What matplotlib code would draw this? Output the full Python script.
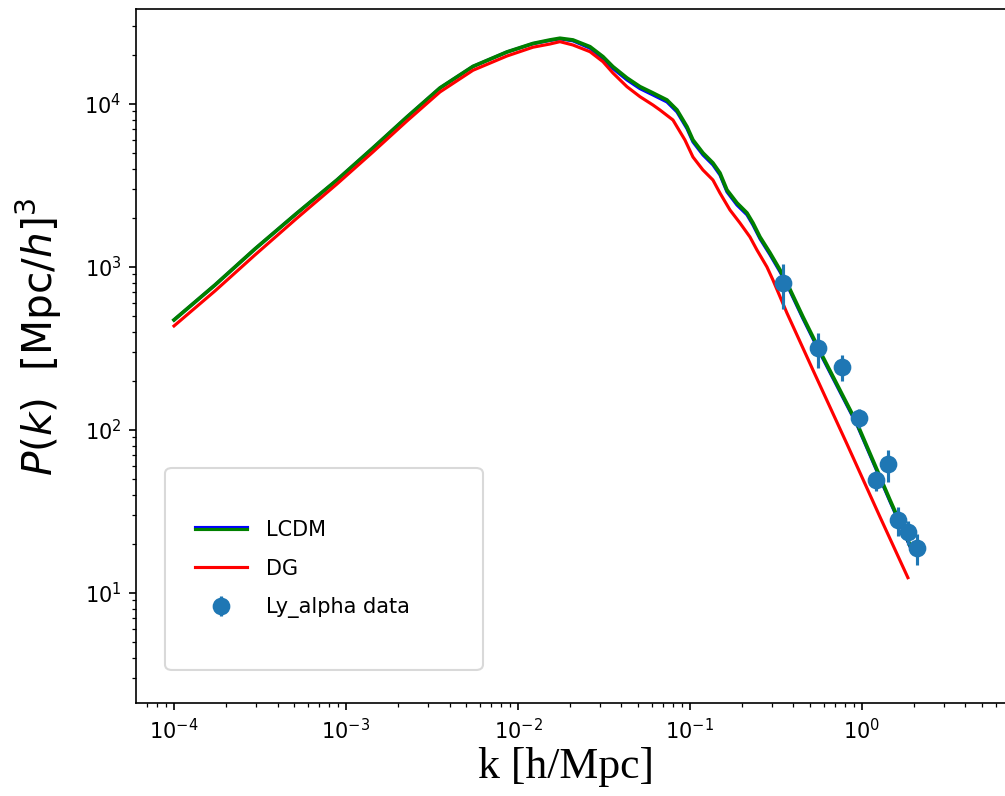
import matplotlib
matplotlib.use("Agg")
import matplotlib.pyplot as plt
import matplotlib.patheffects as pe
from matplotlib.lines import Line2D
from matplotlib.patches import FancyBboxPatch

# LCDM power spectrum (green)
k_lcdm = [1.000e-4, 1.731e-4, 2.957e-4, 5.121e-4, 8.866e-4, 1.435e-3, 2.263e-3, 3.520e-3,
          5.475e-3, 8.630e-3, 1.222e-2, 1.535e-2, 1.754e-2, 2.088e-2, 2.622e-2, 3.120e-2,
          3.566e-2, 4.302e-2, 5.121e-2, 6.093e-2, 7.348e-2, 8.403e-2, 9.607e-2, 0.1041,
          0.1190, 0.1360, 0.1494, 0.1641, 0.1876, 0.2145, 0.2324, 0.2553, 0.2918, 0.3337,
          0.3664, 0.4539, 0.5933, 0.9353, 1.455, 1.901]
P_lcdm = [473, 775, 1290, 2115, 3418, 5373, 8323, 12540,
          17000, 20850, 23500, 24700, 25300, 24700, 22460, 19510,
          16930, 14440, 12770, 11680, 10580, 9190, 7257, 6013,
          5005, 4345, 3773, 2968, 2470, 2145, 1862, 1528, 1222, 960,
          798, 494, 280, 110, 37.2, 19.7]

# LCDM from the second code (blue, mostly hidden under green)
P_lcdm2 = [473, 775, 1290, 2115, 3418, 5373, 8323, 12540,
           17000, 20850, 23450, 24550, 25100, 24400, 22000, 19000,
           16500, 14050, 12420, 11360, 10290, 8940, 7060, 5850,
           4870, 4230, 3670, 2890, 2400, 2090, 1810, 1490, 1190, 935,
           778, 482, 273, 107.5, 36.4, 19.3]

# DG power spectrum (red)
k_dg = [1.000e-4, 1.731e-4, 2.957e-4, 5.121e-4, 8.866e-4, 1.435e-3, 2.263e-3, 3.520e-3,
        5.475e-3, 8.630e-3, 1.222e-2, 1.535e-2, 1.754e-2, 2.088e-2, 2.622e-2, 3.120e-2,
        3.566e-2, 4.302e-2, 5.121e-2, 6.093e-2, 6.692e-2, 7.966e-2, 9.352e-2, 0.1041,
        0.1190, 0.1360, 0.1494, 0.1709, 0.1953, 0.2233, 0.2452, 0.2804, 0.3038, 0.3664,
        0.5189, 0.8181, 1.273, 1.851]
P_dg = [434.5, 712.6, 1185, 1970, 3230, 5076, 7866, 11850,
        16100, 19700, 22300, 23340, 24120, 23010, 20940, 18180,
        15500, 12770, 11090, 9860, 9190, 7977, 6013, 4729,
        3937, 3418, 2844, 2237, 1862, 1528, 1272, 1000, 832, 522,
        233.4, 82.1, 29.3, 12.4]

# Lyman-alpha data points
k_lya = [0.348, 0.555, 0.765, 0.962, 1.205, 1.416, 1.618, 1.85, 2.09]
P_lya = [798, 318, 244, 119, 49.3, 61.8, 28.0, 23.7, 18.9]
err_lya = [245, 78, 45, 16, 7, 14, 5.5, 4, 4]

fig = plt.figure(figsize=(6.7, 5.307), dpi=150)
ax = fig.add_axes([0.1353, 0.1168, 0.8746, 0.8719])

ax.plot(k_lcdm, P_lcdm2, color='blue', lw=1.5)
ax.plot(k_lcdm, P_lcdm, color='green', lw=1.8)
ax.plot(k_dg, P_dg, color='red', lw=1.5)
ax.errorbar(k_lya, P_lya, yerr=err_lya, fmt='o', color='#1f77b4', ms=7.5, lw=1.5)

ax.set_xscale('log')
ax.set_yscale('log')
ax.set_xlim(6.01e-5, 7.76)
ax.set_ylim(2.11, 38300)

ax.set_xlabel('k [h/Mpc]', family='Liberation Serif', fontsize=21)
ax.xaxis.set_label_coords(0.489, -0.063)
ax.set_ylabel(r'$P(k)$  [Mpc/$h$]$^3$', fontsize=19.5)
ax.yaxis.set_label_coords(-0.082, 0.527)

# legend: LCDM handle shows blue over green
h_lcdm = Line2D([], [], color='green', lw=1.5,
                path_effects=[pe.Stroke(offset=(0, 0.9), foreground='blue', linewidth=1.5),
                              pe.Stroke(offset=(0, -0.5), foreground='green', linewidth=1.5)])
h_dg = Line2D([], [], color='red', lw=1.5)
h_lya = ax.errorbar([], [], yerr=[], fmt='o', color='#1f77b4', ms=7.5, lw=1.5)

frame = FancyBboxPatch((0.033, 0.0476), 0.3618, 0.291,
                       boxstyle='round,pad=0,rounding_size=0.008',
                       transform=ax.transAxes, facecolor='white',
                       edgecolor='0.85', lw=1, zorder=4.9)
ax.add_patch(frame)
ax.legend([h_lcdm, h_dg, h_lya], ['LCDM', 'DG', 'Ly_alpha data'],
          loc='center left', bbox_to_anchor=(0.0671, 0.1931),
          frameon=False, borderpad=0, borderaxespad=0,
          handlelength=2.5, handletextpad=0.9, labelspacing=0.9)

fig.savefig('out.png', dpi=150)
